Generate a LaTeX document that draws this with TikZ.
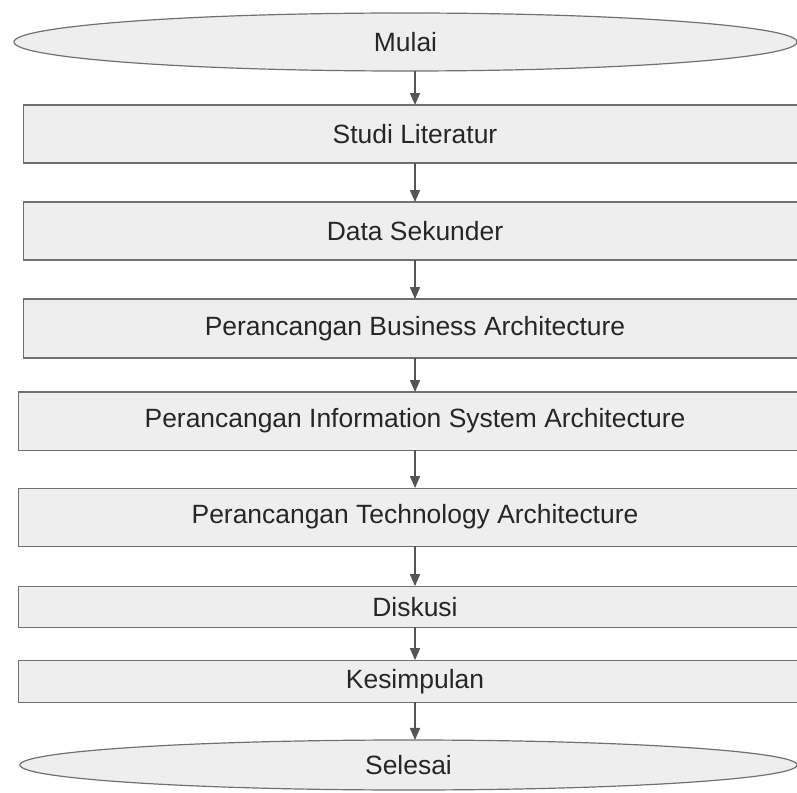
\documentclass[tikz,border=0pt]{standalone}
\usepackage{fontspec}
\setmainfont{Liberation Sans}
\usetikzlibrary{arrows.meta,positioning,shapes.geometric}
\definecolor{boxfill}{HTML}{EEEEEE}
\definecolor{boxline}{HTML}{707070}
\definecolor{arrowgray}{HTML}{555555}
\definecolor{textgray}{HTML}{262626}

\begin{document}
\begin{tikzpicture}[
    x=0.025cm, y=0.025cm,
    node distance=0.95cm,
    every node/.style={font=\fontsize{18.8}{22}\selectfont, text=textgray},
    terminal/.style={draw=boxline, fill=boxfill, ellipse, line width=0.85pt, inner sep=0pt, outer sep=0pt},
    stepbox/.style={draw=boxline, fill=boxfill, line width=0.85pt, inner sep=0pt, outer sep=0pt, minimum width=19.55cm, minimum height=1.45cm},
    flow/.style={-{Triangle[length=0.3cm, width=0.25cm]}, arrowgray, line width=1.1pt}
]
\useasboundingbox (0,0) rectangle (797,792);
\node[terminal, minimum width=19.575cm, minimum height=1.45cm] (mulai) at (405.5,750) {Mulai};
\node[stepbox, below=0.85cm of mulai, xshift=0.2375cm] (studi) {Studi Literatur};
\node[stepbox, below=0.975cm of studi] (data) {Data Sekunder};
\node[stepbox, below=0.975cm of data, minimum height=1.475cm] (business) {Perancangan Business Architecture};
\node[stepbox, below=0.85cm of business, minimum width=19.8cm] (infosys) {Perancangan Information System Architecture};
\node[stepbox, below=0.95cm of infosys, minimum width=19.8cm] (technology) {Perancangan Technology Architecture};
\node[stepbox, below=1.0cm of technology, minimum width=19.8cm, minimum height=1.025cm] (diskusi) {Diskusi};
\node[stepbox, below=0.825cm of diskusi, minimum width=19.8cm, minimum height=1.05cm] (kesimpulan) {Kesimpulan};
\node[terminal, minimum width=19.425cm, minimum height=1.25cm] (selesai) at (408.5,27) {Selesai};
\draw[flow] (studi.north |- mulai.south) -- (studi.north);
\draw[flow] (studi) -- (data);
\draw[flow] (data) -- (business);
\draw[flow] (business) -- (infosys);
\draw[flow] (infosys) -- (technology);
\draw[flow] (technology) -- (diskusi);
\draw[flow] (diskusi) -- (kesimpulan);
\draw[flow] (kesimpulan.south) -- (kesimpulan.south |- selesai.north);
\end{tikzpicture}
\end{document}
